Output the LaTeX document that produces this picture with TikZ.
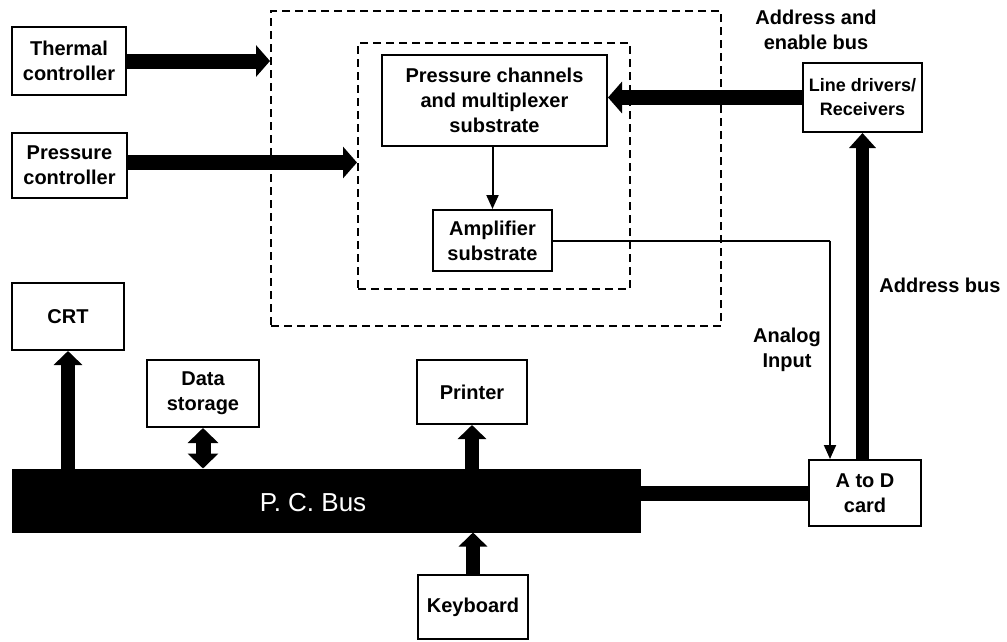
\documentclass[tikz,border=0pt]{standalone}
\usepackage{fontspec}
\setmainfont{Liberation Sans}
\usetikzlibrary{arrows.meta}
\begin{document}
\begin{tikzpicture}[x=1pt,y=-1pt,
  box/.style={draw,line width=2pt,inner sep=0pt,align=center,font=\fontsize{20}{25}\selectfont\bfseries},
  dbox/.style={draw,line width=2pt,dash pattern=on 8pt off 5pt,inner sep=0pt},
  lbl/.style={inner sep=0pt,align=center,font=\fontsize{20}{25}\selectfont\bfseries},
  fat/.style={line width=15pt,-{Triangle[width=31pt,length=14pt]}},
  fatv/.style={line width=14pt,-{Triangle[width=28pt,length=14pt]}},
  thin/.style={line width=2pt},
  thinarr/.style={line width=2pt,-{Triangle[width=12pt,length=14pt]}}]
\useasboundingbox (0,0) rectangle (1007,641);
% dashed enclosures
\node[dbox,minimum width=450pt,minimum height=315pt] (outer) at (496,168.5) {};
\node[dbox,minimum width=272pt,minimum height=246pt] (inner) at (494,166) {};
% boxes
\node[box,minimum width=114pt,minimum height=68pt] (thermal) at (69,61) {Thermal\\controller};
\node[box,minimum width=115pt,minimum height=65pt] (pctl) at (69.5,165.5) {Pressure\\controller};
\node[box,minimum width=225pt,minimum height=91pt] (pcm) at (494.5,100.5) {Pressure channels\\and multiplexer\\substrate};
\node[box,minimum width=119pt,minimum height=61pt] (amp) at (492.5,240.5) {Amplifier\\substrate};
\node[box,minimum width=119pt,minimum height=69pt,font=\fontsize{18}{24}\selectfont\bfseries] (ld) at (862.5,97.5) {Line drivers/\\Receivers};
\node[box,minimum width=112pt,minimum height=67pt] (crt) at (68,316.5) {CRT};
\node[box,minimum width=112pt,minimum height=67pt] (data) at (203,393.5) {Data\\storage};
\node[box,minimum width=110pt,minimum height=64pt] (printer) at (472,392) {Printer};
\node[box,minimum width=110pt,minimum height=64pt] (kbd) at (473,607) {Keyboard};
\node[box,minimum width=112pt,minimum height=66pt] (atod) at (865,493) {A to D\\card};
\node[fill=black,draw=black,line width=1pt,minimum width=628pt,minimum height=63pt,inner sep=0pt] (bus) at (326,500.5) {};
\node[inner sep=0pt,text=white,font=\fontsize{26}{30}\selectfont] (buslbl) at (313,503) {P. C. Bus};
% labels
\node[lbl] (aeb) at (816,30) {Address and\\enable bus};
\node[lbl] (ab) at (940,285) {Address bus};
\node[lbl] (ai) at (787,350) {Analog\\Input};
\coordinate (ain) at (830,0);
% connectors
\draw[fat] (thermal.east) -- (thermal.east -| outer.west);
\draw[fat] ([yshift=3pt]pctl.east) -- ([yshift=3pt]pctl.east -| inner.west);
\draw[fat] (ld.west) -- (ld.west -| pcm.east);
\draw[thinarr] (amp.north |- pcm.south) -- (amp.north);
\draw[thin] (amp.east) -- (amp.east -| ain);
\draw[thinarr] (amp.east -| ain) -- (ain |- atod.north);
\draw[line width=13pt,-{Triangle[width=26pt,length=15pt]}] (ld.south |- atod.north) -- (ld.south);
\draw[line width=15pt] (atod.west -| bus.east) -- (atod.west);
\draw[fatv] (crt.south |- bus.north) -- (crt.south);
\draw[line width=15pt,{Triangle[width=30pt,length=15pt]}-{Triangle[width=30pt,length=15pt]}] (data.south) -- (data.south |- bus.north);
\draw[fatv] (printer.south |- bus.north) -- (printer.south);
\draw[fatv] (kbd.north) -- (kbd.north |- bus.south);
\end{tikzpicture}
\end{document}
